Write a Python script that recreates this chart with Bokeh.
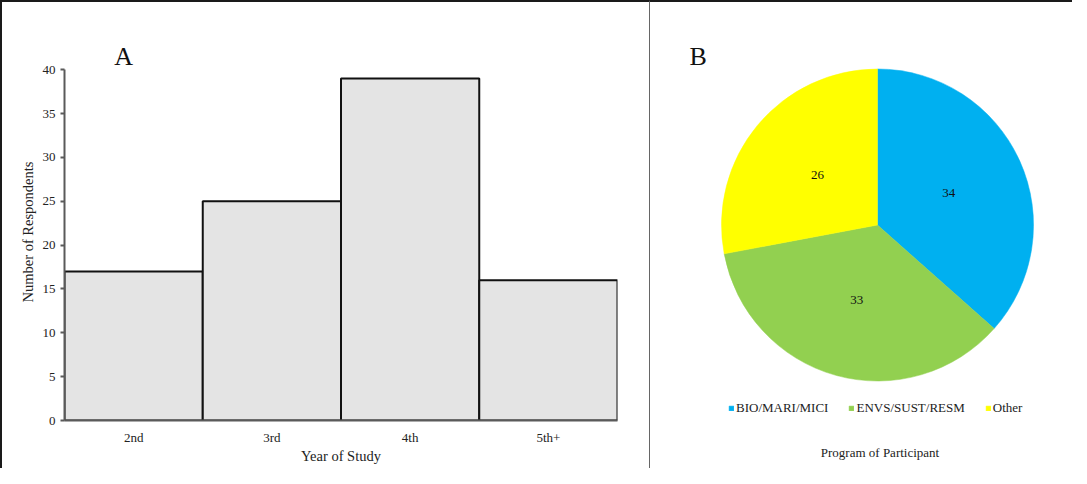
import math
from bokeh.plotting import figure
from bokeh.layouts import row
from bokeh.models import (FactorRange, Range1d, FixedTicker, Label, Legend, LegendItem,
                          ColumnDataSource)
from bokeh.embed import file_html
from bokeh.resources import INLINE
from bokeh.core.properties import value

# ---- data ----
years = ["2nd", "3rd", "4th", "5th+"]
respondents = [17, 25, 39, 16]
y_ticks = [0, 5, 10, 15, 20, 25, 30, 35, 40]

programs = ["BIO/MARI/MICI", "ENVS/SUST/RESM", "Other"]
program_counts = [34, 33, 26]
program_colors = ["#00B0F0", "#92D050", "#FFFF00"]

FONT = "Liberation Serif"
TOP, BOTTOM = 41, 50

# ---- Panel A: bar chart ----
pa = figure(width=650, height=468, x_range=FactorRange(*years), y_range=Range1d(0, 43),
            output_backend="svg", toolbar_location=None,
            min_border_left=62, min_border_right=35, min_border_top=TOP, min_border_bottom=BOTTOM,
            styles={"border-top": "2px solid #1a1a1a", "border-left": "2px solid #1a1a1a",
                    "border-right": "1px solid #666666"})
pa.outline_line_color = None
pa.xgrid.grid_line_color = None
pa.ygrid.grid_line_color = None
pa.vbar(x=years, top=respondents, width=1.0, fill_color="#E4E4E4",
        line_color="#111111", line_width=2)

pa.yaxis.ticker = FixedTicker(ticks=y_ticks)
pa.yaxis.bounds = (0, 40)
pa.yaxis.minor_tick_line_color = None
pa.yaxis.major_tick_out = 4
pa.yaxis.major_tick_in = 0
pa.yaxis.major_label_standoff = 5
pa.yaxis.axis_label = "Number of Respondents"
pa.yaxis.axis_label_standoff = 4
for ax in (pa.xaxis, pa.yaxis):
    ax.axis_line_color = "#5a5a5a"
    ax.axis_line_width = 2
    ax.major_tick_line_color = "#5a5a5a"
    ax.major_tick_line_width = 2
    ax.major_label_text_font = FONT
    ax.major_label_text_font_size = "13px"
    ax.major_label_text_color = "#222222"
    ax.axis_label_text_font = FONT
    ax.axis_label_text_font_style = "normal"
    ax.axis_label_text_color = "#222222"
pa.yaxis.axis_label_text_font_size = "14.5px"
pa.xaxis.axis_label = "Year of Study"
pa.xaxis.axis_label_text_font_size = "14.5px"
pa.xaxis.major_tick_line_color = None
pa.xaxis.major_tick_out = 0
pa.xaxis.major_label_standoff = 9
pa.xaxis.axis_label_standoff = 0

pa.add_layout(Label(x=0.36, y=41.5, text="A", text_font=FONT, text_font_size="26px",
                    text_color="#111111", text_baseline="middle", text_align="left"))

# ---- Panel B: pie chart ----
total = sum(program_counts)
starts, ends, lx, ly = [], [], [], []
ang = math.pi / 2
for c in program_counts:
    sweep = 2 * math.pi * c / total
    starts.append(ang - sweep)
    ends.append(ang)
    mid = ang - sweep / 2
    lx.append(0.5 * math.cos(mid))
    ly.append(0.5 * math.sin(mid))
    ang -= sweep

src = ColumnDataSource(dict(program=programs, count=program_counts, color=program_colors,
                            start=starts, end=ends, lx=lx, ly=ly,
                            label=[str(c) for c in program_counts]))

B_LEFT = 37
pb = figure(width=422, height=468,
            x_range=Range1d(-1.455 + B_LEFT / 156.0, 1.25), y_range=Range1d(-1.2532, 1.1635),
            y_axis_location=None,
            output_backend="svg", toolbar_location=None,
            min_border_left=B_LEFT, min_border_right=0, min_border_top=TOP, min_border_bottom=BOTTOM,
            styles={"border-top": "2px solid #1a1a1a"})
pb.xgrid.grid_line_color = None
pb.ygrid.grid_line_color = None
pb.outline_line_color = None
wedges = pb.wedge(x=0, y=0, radius=1, start_angle="start", end_angle="end",
                  fill_color="color", line_color="color", line_width=0.5, source=src)
pb.text(x="lx", y="ly", text="label", source=src, text_font=value(FONT),
        text_font_size="13px", text_align="center", text_baseline="middle", text_color="#111111")

items = [LegendItem(label=programs[i], renderers=[wedges], index=i) for i in range(len(programs))]
legend = Legend(items=items, orientation="horizontal", location=(78 - B_LEFT, 4),
                glyph_width=6, glyph_height=6, label_standoff=2, spacing=20,
                padding=0, margin=0, border_line_color=None, background_fill_alpha=0,
                label_text_font=FONT, label_text_font_size="13px", label_text_color="#222222",
                label_height=14)
pb.add_layout(legend)

# axis used only to carry the caption below the pie
xb = pb.xaxis[0]
xb.ticker = FixedTicker(ticks=[])
xb.axis_line_color = None
xb.major_tick_line_color = None
xb.minor_tick_line_color = None
xb.major_tick_out = 0
xb.minor_tick_out = 0
xb.major_label_standoff = 0
xb.axis_label = "Program of Participant"
xb.axis_label_standoff = 24
xb.axis_label_text_font = FONT
xb.axis_label_text_font_size = "13px"
xb.axis_label_text_font_style = "normal"
xb.axis_label_text_color = "#222222"

pb.add_layout(Label(x=-1.205, y=1.083, text="B", text_font=FONT, text_font_size="26px",
                    text_color="#111111", text_baseline="middle", text_align="left"))

layout = row(pa, pb)
open("out.html", "w").write(file_html(layout, INLINE))
